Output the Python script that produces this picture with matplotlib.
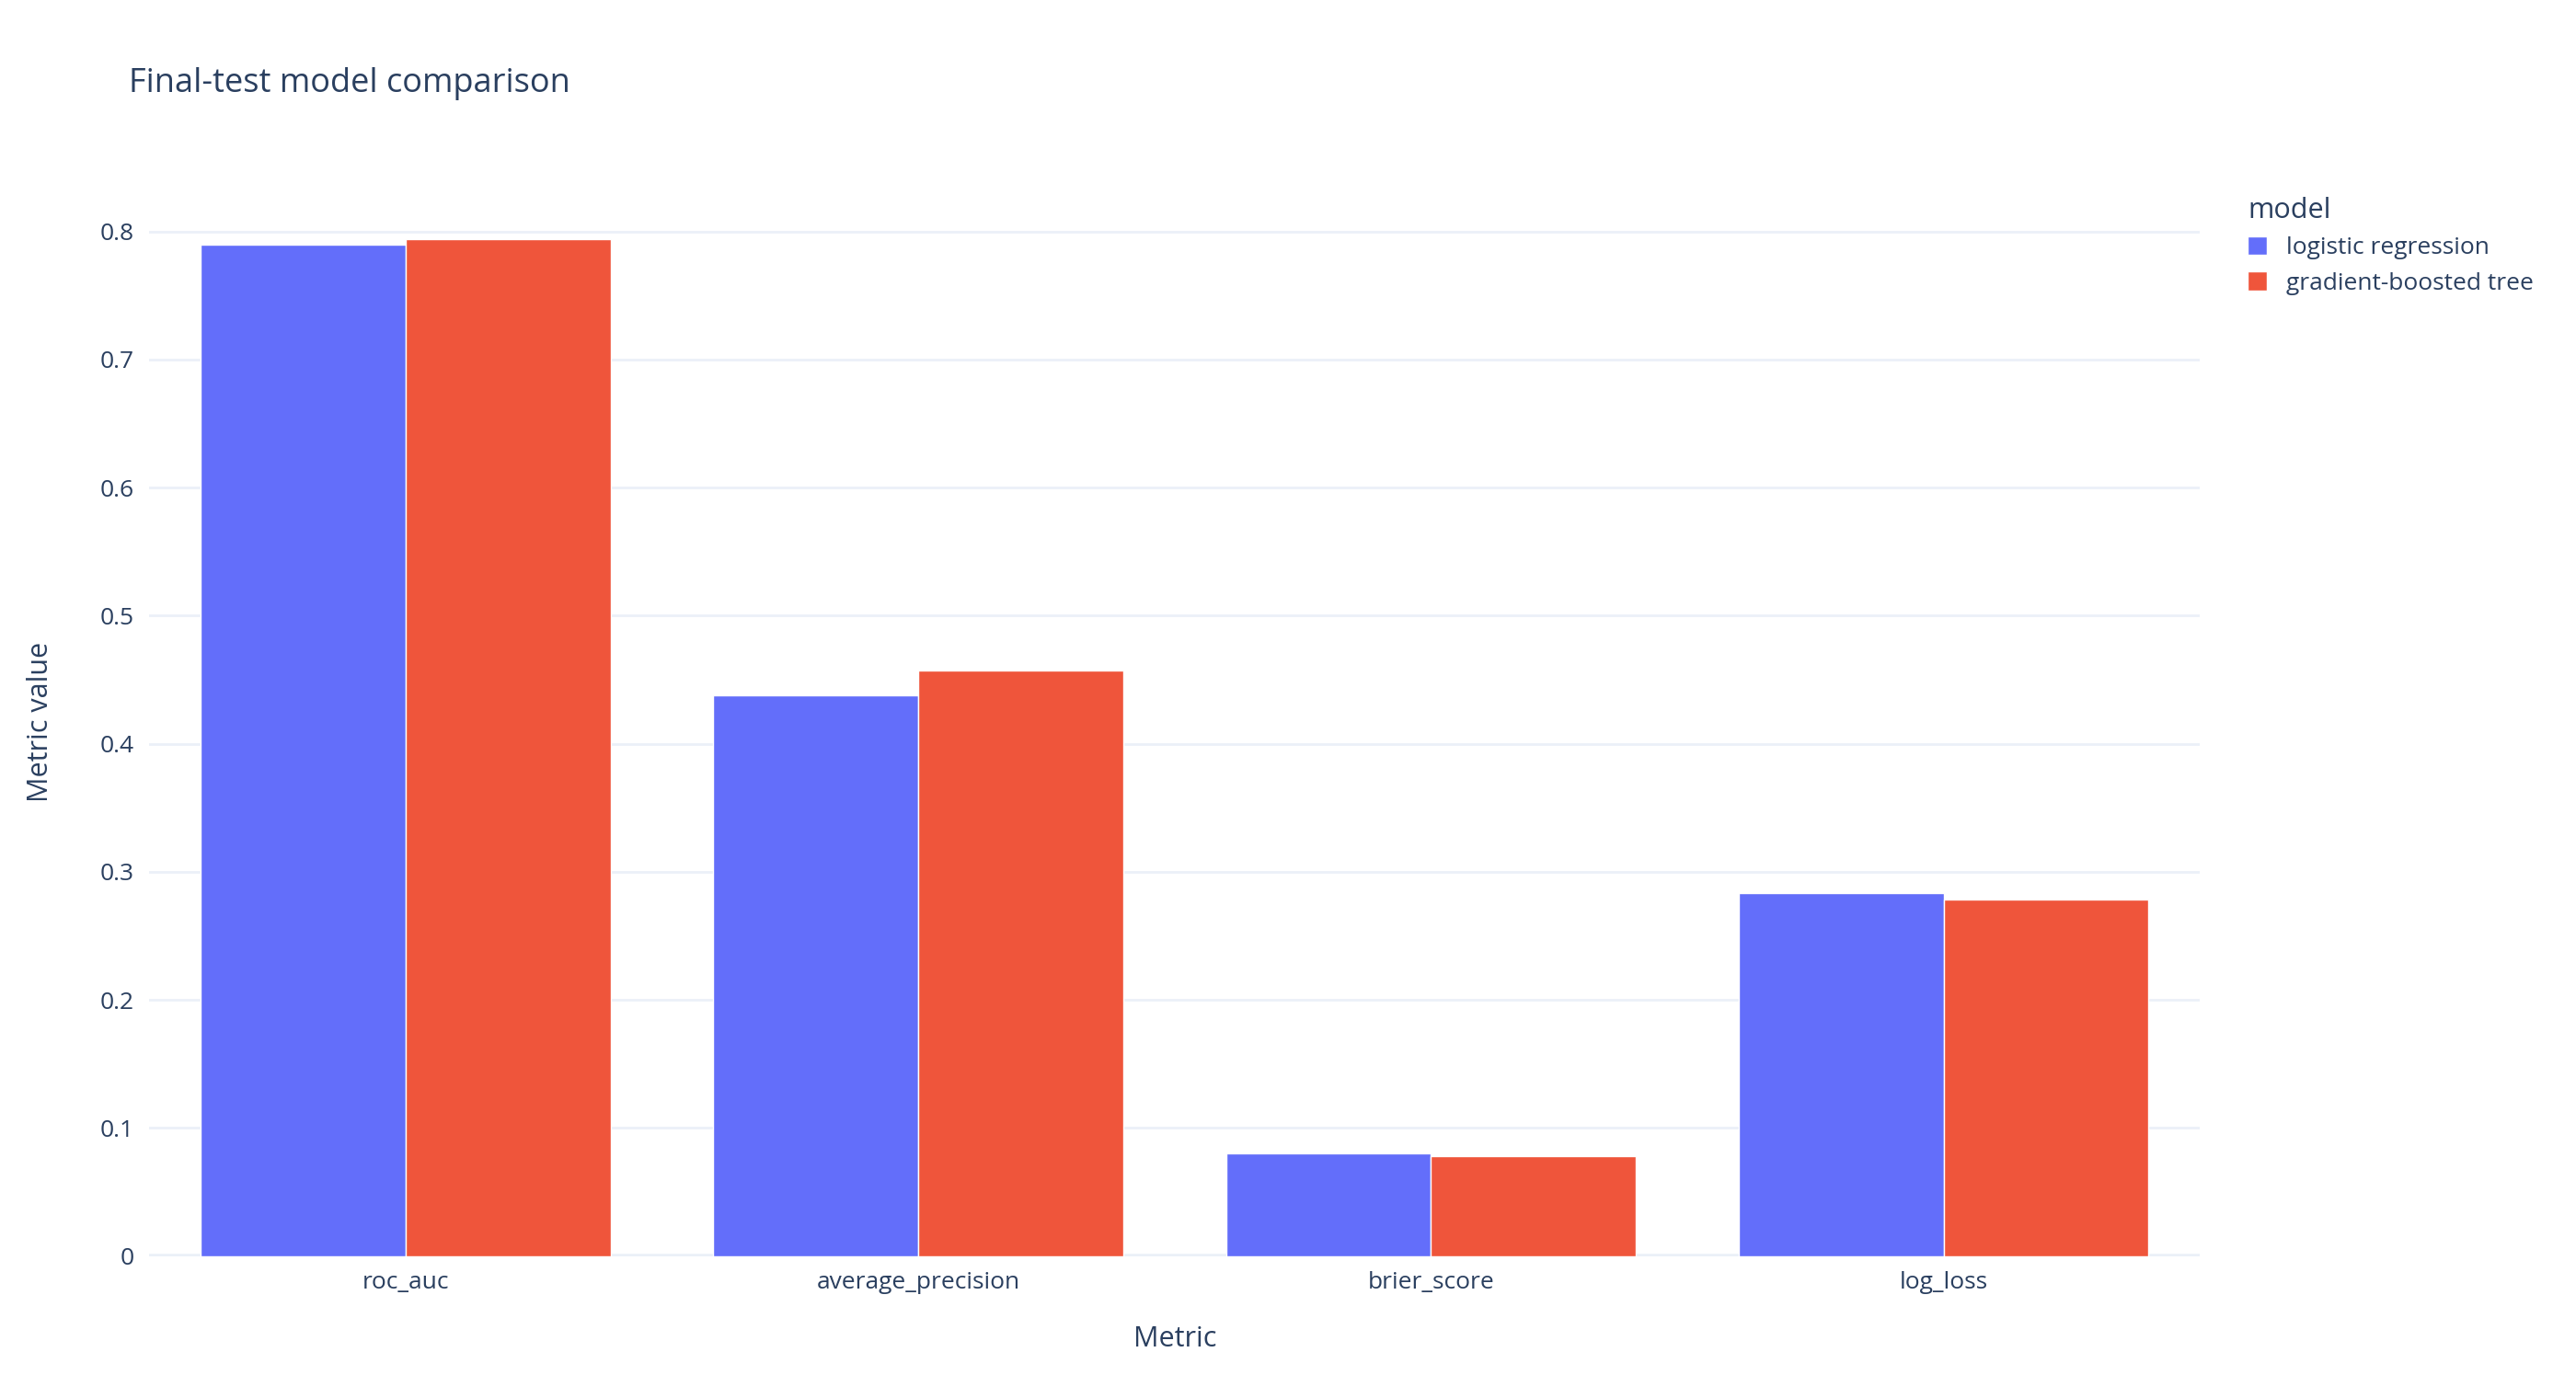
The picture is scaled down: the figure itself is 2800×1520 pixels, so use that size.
import matplotlib
matplotlib.use("Agg")
import matplotlib.pyplot as plt
import numpy as np

metrics = ["roc_auc", "average_precision", "brier_score", "log_loss"]
models = ["logistic regression", "gradient-boosted tree"]
lr_vals = [0.790, 0.438, 0.080, 0.2835]
gbt_vals = [0.794, 0.4575, 0.078, 0.278]
colors = ["#636EFA", "#EF553B"]
txt = "#2a3f5f"

plt.rcParams['font.family'] = ['Open Sans', 'DejaVu Sans']
fig = plt.figure(figsize=(14, 7.6), dpi=200)
ax = fig.add_axes([0.058, 0.1016, 0.796, 0.764])
x = np.arange(len(metrics))
w = 0.4
ax.bar(x - w/2, lr_vals, w, color=colors[0], label=models[0], edgecolor="white", linewidth=0.5, zorder=3)
ax.bar(x + w/2, gbt_vals, w, color=colors[1], label=models[1], edgecolor="white", linewidth=0.5, zorder=3)
ax.set_xlim(-0.5, 3.5)
ax.set_ylim(0, 0.834)
ax.set_yticks(np.arange(0, 0.81, 0.1))
ax.set_yticklabels(["0"] + [f"{v:.1f}" for v in np.arange(0.1, 0.81, 0.1)])
ax.set_xticks(x)
ax.set_xticklabels(metrics)
ax.grid(axis="y", color="#EBF0F8", linewidth=1, zorder=0)
for s in ax.spines.values():
    s.set_visible(False)
ax.axhline(0, color="#EBF0F8", linewidth=2, zorder=2)
ax.tick_params(length=0, colors=txt, labelsize=9.5, pad=6)
ax.set_xlabel("Metric", color=txt, fontsize=11, labelpad=12)
ax.set_ylabel("Metric value", color=txt, fontsize=11, labelpad=18)
fig.text(0.05, 0.94, "Final-test model comparison", color=txt, fontsize=13, va="center")
leg = fig.legend(loc="upper left", bbox_to_anchor=(0.864, 0.875), frameon=False,
                 title="model", fontsize=9.5, title_fontsize=11, handlelength=0.8,
                 handleheight=0.8, labelcolor=txt)
leg.get_title().set_color(txt)
leg._legend_box.align = "left"
fig.savefig("out.png", dpi=200, facecolor="white")
